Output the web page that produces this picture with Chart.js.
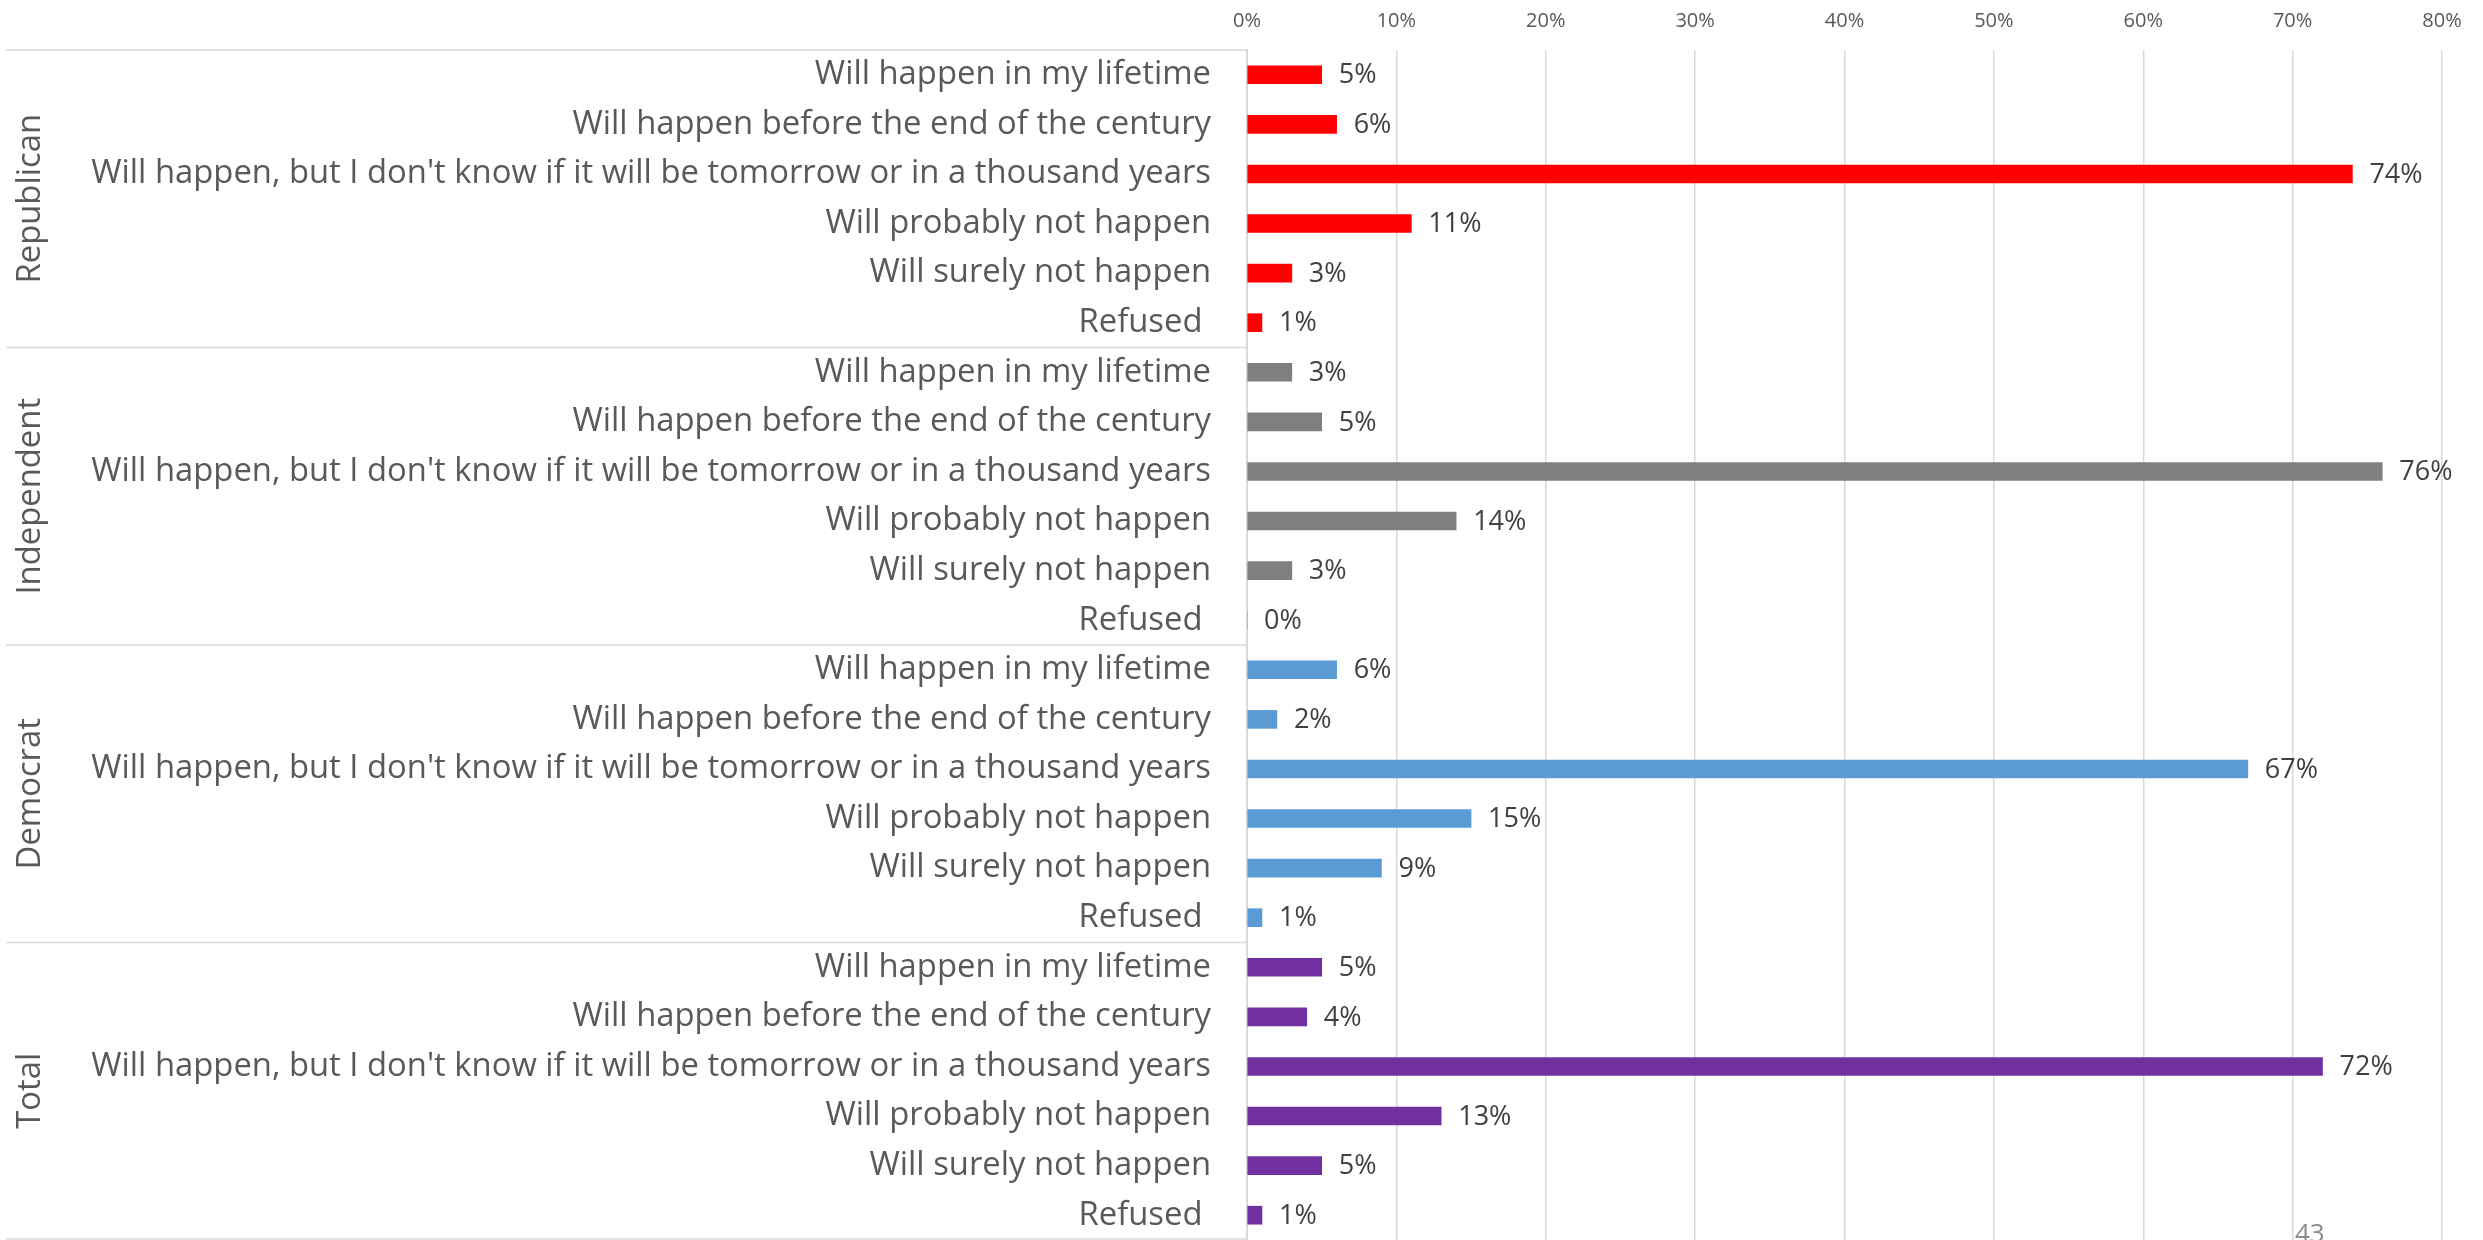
<!DOCTYPE html>
<html>
<head>
<meta charset="utf-8">
<script src="https://cdn.jsdelivr.net/npm/chart.js@4/dist/chart.umd.min.js"></script>
<style>
  html, body { margin: 0; padding: 0; background: #ffffff; }
  #wrap { width: 2483px; height: 1240px; }
</style>
</head>
<body>
<div id="wrap"><canvas id="chart" width="2483" height="1240"></canvas></div>
<script>
// Party groups, drawn top to bottom
const groups = ['Republican', 'Independent', 'Democrat', 'Total'];

// Answer options repeated inside every group
const answers = [
  'Will happen in my lifetime',
  'Will happen before the end of the century',
  "Will happen, but I don't know if it will be tomorrow or in a thousand years",
  'Will probably not happen',
  'Will surely not happen',
  'Refused '
];

// Share of respondents (%) per answer
const republican  = [5, 6, 74, 11, 3, 1];
const independent = [3, 5, 76, 14, 3, 0];
const democrat    = [6, 2, 67, 15, 9, 1];
const total       = [5, 4, 72, 13, 5, 1];

// Axis ticks (%)
const xTicks = [0, 10, 20, 30, 40, 50, 60, 70, 80];

const groupColors = ['#ff0000', '#7f7f7f', '#5b9bd5', '#7030a0'];
const groupValues = [republican, independent, democrat, total];

const labels = [];
const values = [];
const colors = [];
groupValues.forEach((arr, g) => {
  arr.forEach((v, i) => {
    labels.push(answers[i]);
    values.push(v);
    colors.push(groupColors[g]);
  });
});

const FONT = "'Open Sans', 'Noto Sans', sans-serif";
const LINE = '#d9d9d9';

// Value labels at the end of every bar
const valueLabels = {
  id: 'valueLabels',
  afterDatasetsDraw(chart) {
    const ctx = chart.ctx;
    const meta = chart.getDatasetMeta(0);
    ctx.save();
    ctx.font = '27px ' + FONT;
    ctx.fillStyle = '#404040';
    ctx.textAlign = 'left';
    ctx.textBaseline = 'middle';
    meta.data.forEach((bar, i) => {
      ctx.fillText(values[i] + '%', bar.x + 17, bar.y + 1);
    });
    ctx.restore();
  }
};

// Group separators, rotated group names and the page number
const groupFrame = {
  id: 'groupFrame',
  afterDraw(chart) {
    const ctx = chart.ctx;
    const y = chart.scales.y;
    const area = chart.chartArea;
    const n = answers.length;
    const bounds = [area.top];
    for (let g = 1; g < groups.length; g++) {
      bounds.push((y.getPixelForValue(g * n - 1) + y.getPixelForValue(g * n)) / 2);
    }
    bounds.push(area.bottom - 1);

    ctx.save();
    ctx.strokeStyle = LINE;
    ctx.lineWidth = 1.6;
    bounds.forEach(b => {
      ctx.beginPath();
      ctx.moveTo(6, b);
      ctx.lineTo(area.left, b);
      ctx.stroke();
    });

    ctx.fillStyle = '#595959';
    ctx.font = '32.8px ' + FONT;
    ctx.textAlign = 'center';
    ctx.textBaseline = 'middle';
    groups.forEach((name, g) => {
      const cy = (bounds[g] + bounds[g + 1]) / 2;
      ctx.save();
      ctx.translate(31, cy);
      ctx.rotate(-Math.PI / 2);
      ctx.fillText(name, 0, 0);
      ctx.restore();
    });

    ctx.fillStyle = '#8c8c8c';
    ctx.font = '26px ' + FONT;
    ctx.textAlign = 'left';
    ctx.textBaseline = 'alphabetic';
    ctx.fillText('43', 2295, 1242);
    ctx.restore();
  }
};

new Chart(document.getElementById('chart'), {
  type: 'bar',
  data: {
    labels: labels,
    datasets: [{
      data: values,
      backgroundColor: colors,
      borderWidth: 0,
      barThickness: 18
    }]
  },
  options: {
    indexAxis: 'y',
    responsive: false,
    animation: false,
    devicePixelRatio: 1,
    layout: { padding: { top: 0, left: 0, right: 41, bottom: 0 } },
    plugins: {
      legend: { display: false },
      tooltip: { enabled: false }
    },
    scales: {
      x: {
        position: 'top',
        min: 0,
        max: 80,
        afterBuildTicks(scale) {
          scale.ticks = xTicks.map(v => ({ value: v }));
        },
        afterFit(scale) {
          scale.height = 50;
          scale.paddingLeft = 0;
          scale.paddingRight = 0;
        },
        grid: { color: LINE, lineWidth: 1.5, drawTicks: false },
        border: { display: false },
        ticks: {
          padding: 17,
          color: '#595959',
          font: { family: FONT, size: 20 },
          callback: v => v + '%'
        }
      },
      y: {
        afterFit(scale) {
          scale.width = 1247;
          scale.paddingTop = 0;
          scale.paddingBottom = 0;
        },
        grid: { display: false, drawTicks: false },
        border: { display: true, color: LINE, width: 2 },
        ticks: {
          autoSkip: false,
          padding: 36,
          color: '#595959',
          font: { family: FONT, size: 32.8 }
        }
      }
    }
  },
  plugins: [valueLabels, groupFrame]
});
</script>
</body>
</html>
